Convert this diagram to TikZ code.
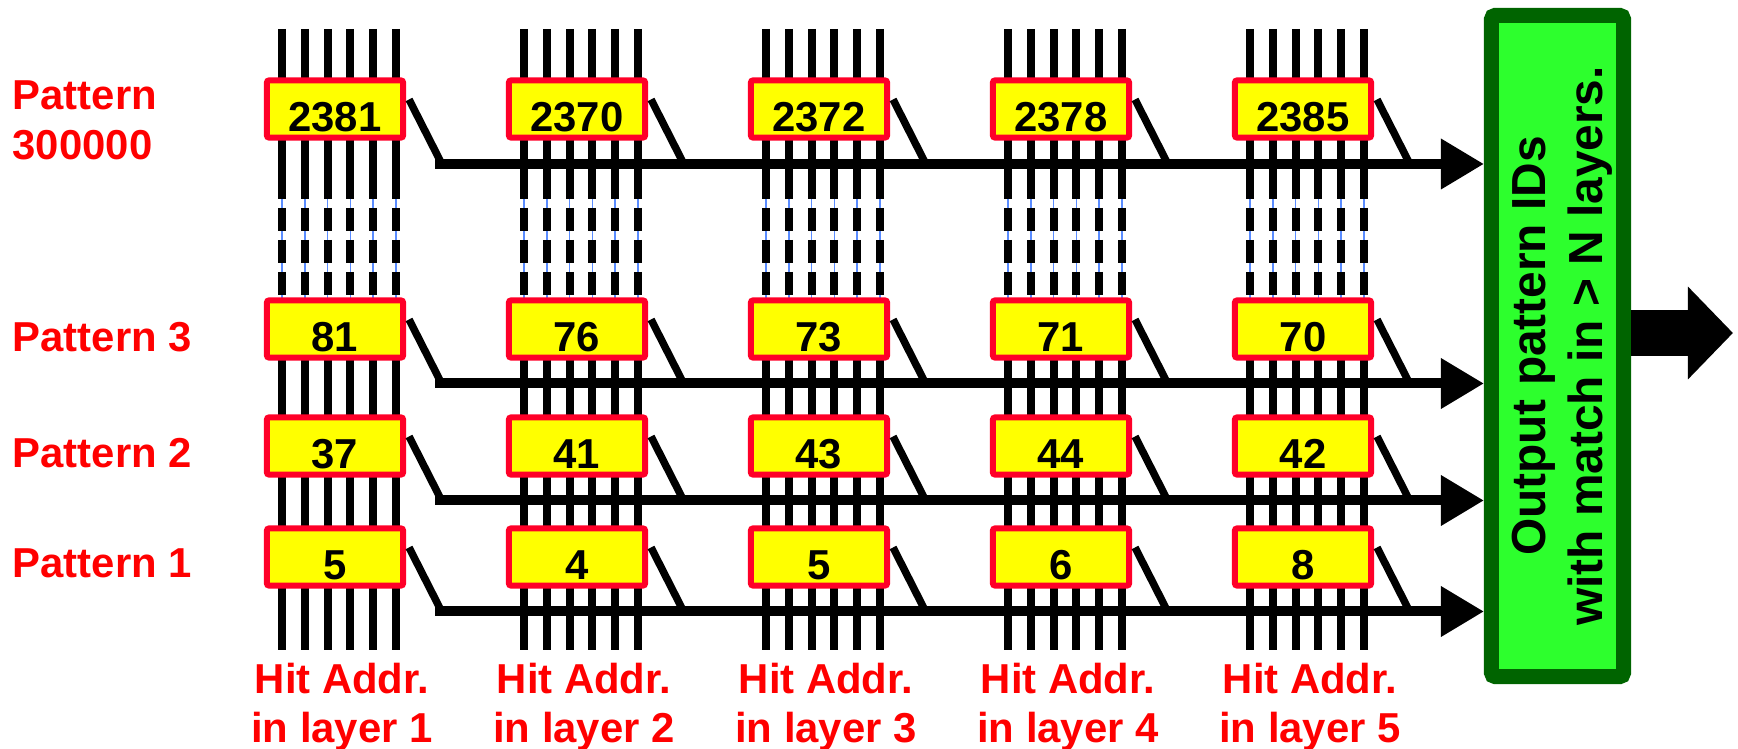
\documentclass[tikz,border=0pt]{standalone}
\usepackage{fontspec}
\setmainfont{Liberation Sans}
\usetikzlibrary{arrows.meta}
\definecolor{boxred}{RGB}{255,0,40}
\definecolor{boxyellow}{RGB}{255,255,0}
\definecolor{litegreen}{RGB}{45,255,45}
\definecolor{darkgreen}{RGB}{0,100,0}
\definecolor{wireblue}{RGB}{90,140,255}

\begin{document}
\begin{tikzpicture}[x=0.01cm, y=-0.01cm,
    font=\fontsize{11.9}{14.2}\selectfont\bfseries,
    wire/.style={line width=0.08cm},
    pbox/.style={draw=boxred, fill=boxyellow, line width=0.06cm,
      rounded corners=0.02cm, minimum width=1.36cm, minimum height=0.57cm,
      inner sep=0pt, text height=0.44cm, text depth=0pt},
    slant/.style={line width=0.075cm},
    bus/.style={line width=0.1cm, -{Triangle[length=0.43cm,width=0.48cm]}},
    outbox/.style={draw=darkgreen, fill=litegreen, line width=0.15cm,
      rounded corners=0.04cm, minimum width=1.32cm, minimum height=6.61cm,
      inner sep=0pt},
    plabel/.style={red, anchor=north west, inner sep=0pt, align=left},
    hlabel/.style={red, anchor=north, inner sep=0pt, align=center}]

  \useasboundingbox (0,0) rectangle (1738,749);

  % Hit address wires, six per layer
  \foreach \c in {0,...,4}{
    \foreach \k in {0,...,5}{
      \pgfmathsetmacro{\wx}{282+242*\c+22.8*\k}
      \draw[wire] (\wx,29) -- (\wx,199);
      \draw[wire] (\wx,298) -- (\wx,650);
      \draw[wireblue, line width=0.015cm] (\wx,199) -- (\wx,298);
      \foreach \dy in {208,240,272}
        \draw[wire] (\wx,\dy) -- (\wx,\dy+23);
    }
  }

  % Output block
  \node[outbox] (out) at (1557.5,346) {};
  \node[rotate=90, align=center, font=\fontsize{13.6}{16.2}\selectfont\bfseries]
    (outtext) at ([xshift=0.05cm]out.center) {Output pattern IDs\\with match in > N layers.};

  % Pattern memory cells
  \foreach \c/\v in {1/2381,2/2370,3/2372,4/2378,5/2385}
    \node[pbox] (top\c) at ({335+242*(\c-1)},109) {\v};
  \foreach \c/\v in {1/81,2/76,3/73,4/71,5/70}
    \node[pbox] (three\c) at ({335+242*(\c-1)},329) {\v};
  \foreach \c/\v in {1/37,2/41,3/43,4/44,5/42}
    \node[pbox] (two\c) at ({335+242*(\c-1)},446) {\v};
  \foreach \c/\v in {1/5,2/4,3/5,4/6,5/8}
    \node[pbox] (one\c) at ({335+242*(\c-1)},557) {\v};

  % Match lines into the output block
  \foreach \row/\ay in {top/164, three/383.5, two/500.5, one/611.5}{
    \coordinate (\row-s) at (435,\ay);
    \draw[bus] (\row-s) -- (\row-s -| out.west);
    \foreach \c in {1,...,5}
      \draw[slant] ([shift={(3,22)}]\row\c.north east) -- ++(31,61);
  }

  % Result arrow
  \coordinate (res) at (1733,333);
  \draw[line width=0.45cm, -{Triangle[length=0.45cm,width=0.9cm]}]
    (out.east |- res) -- (res);

  % Labels
  \node[plabel] (lab4) at (12,80) {Pattern\\300000};
  \node[plabel] (lab3) at (12,322) {Pattern 3};
  \node[plabel] (lab2) at (12,438) {Pattern 2};
  \node[plabel] (lab1) at (12,548) {Pattern 1};
  \foreach \c in {1,...,5}
    \node[hlabel] (hit\c) at ({342+242*(\c-1)},662) {Hit Addr.\\in layer \c};
\end{tikzpicture}
\end{document}
